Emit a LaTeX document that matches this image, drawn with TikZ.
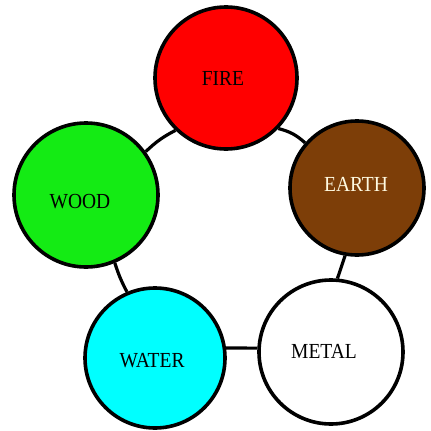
\documentclass[tikz,border=0pt]{standalone}
\usepackage{fontspec}
\setmainfont{Liberation Serif}
\definecolor{firered}{RGB}{255,0,0}
\definecolor{earthbrown}{RGB}{125,62,8}
\definecolor{woodgreen}{RGB}{20,235,20}
\definecolor{watercyan}{RGB}{0,255,255}
\definecolor{earthtext}{RGB}{255,250,225}
\begin{document}
\begin{tikzpicture}[x=1pt,y=-1pt,
  elem/.style={circle,draw=black,line width=3.6pt,inner sep=0pt},
  lbl/.style={font=\fontsize{19.5}{21}\selectfont,inner sep=0pt,yscale=1.1},
  link/.style={draw=black,line width=3.2pt}]
\useasboundingbox[fill=white] (0,0) rectangle (431,431);
\node[elem,fill=firered,minimum size=142pt] (fire) at (226,78) {};
\node[elem,fill=earthbrown,minimum size=134pt] (earth) at (357,188) {};
\node[elem,fill=woodgreen,minimum size=144pt] (wood) at (86,195) {};
\node[elem,fill=watercyan,minimum size=140pt] (water) at (155,358) {};
\node[elem,fill=white,minimum size=144pt] (metal) at (331,352) {};
\node[lbl,text=black] (firet) at (223,78) {FIRE};
\node[lbl,text=earthtext] (eartht) at (356,184) {EARTH};
\node[lbl,text=black] (woodt) at (80,202) {WOOD};
\node[lbl,text=black] (watert) at (152,361) {WATER};
\node[lbl,text=black] (metalt) at (324,351) {METAL};
\draw[link] (wood.36) to[bend left=8] (fire.226);
\draw[link] (fire.-44) to[bend left=14] (earth.139);
\draw[link] (earth.-100) -- (metal.85);
\draw[link] (metal.177) -- (water.8);
\draw[link] (water.113) to[bend left=5] (wood.-67);
\end{tikzpicture}
\end{document}
